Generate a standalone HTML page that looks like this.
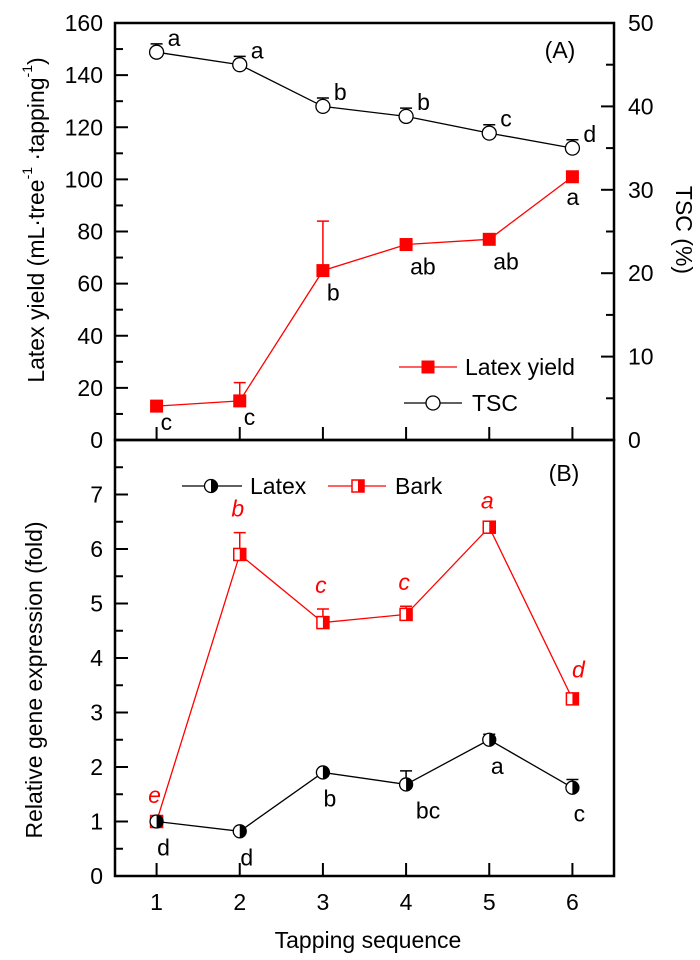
<!DOCTYPE html>
<html><head><meta charset="utf-8"><style>
html,body{margin:0;padding:0;background:#fff;}
svg{display:block;font-family:"Liberation Sans",Arial,sans-serif;}
</style></head><body>
<svg id="chart" width="700" height="960" viewBox="0 0 700 960" xmlns="http://www.w3.org/2000/svg"></svg>
<script>
const categories=[1,2,3,4,5,6];
const latexYield=[13,15,65,75,77,101];
const latexYieldErr=[1,7,19,1,1,2];
const latexYieldLetters=["c","c","b","ab","ab","a"];
const tsc=[46.5,45,40,38.8,36.8,35];
const tscErr=[1,1,1,1,1,1];
const tscLetters=["a","a","b","b","c","d"];
const bark=[1.0,5.9,4.65,4.8,6.4,3.25];
const barkErr=[0.05,0.4,0.25,0.15,0.05,0.1];
const barkLetters=["e","b","c","c","a","d"];
const latexExpr=[1.0,0.82,1.9,1.68,2.5,1.62];
const latexExprErr=[0.03,0.03,0.05,0.25,0.1,0.15];
const latexExprLetters=["d","d","b","bc","a","c"];
const yLeftTicksA=[0,20,40,60,80,100,120,140,160];
const yRightTicksA=[0,10,20,30,40,50];
const yTicksB=[0,1,2,3,4,5,6,7];

const svg=document.getElementById('chart');
const NS='http://www.w3.org/2000/svg';
function mk(tag,attrs,parent){const e=document.createElementNS(NS,tag);for(const k in attrs)e.setAttribute(k,attrs[k]);(parent||svg).appendChild(e);return e;}
function txt(s,x,y,opts,parent){const e=mk('text',Object.assign({x:x,y:y,'font-size':23,fill:'#000','dominant-baseline':'central'},opts||{}),parent);e.textContent=s;return e;}

const L=115,R=614,TA=23,BA=440,TB=440,BB=876;
const xs=v=>L+(v-0.5)/6*(R-L);
const yA=v=>BA-v/160*(BA-TA);
const yA2=v=>BA-v/50*(BA-TA);
const yB=v=>BB-v/8*(BB-TB);

const fa=mk('rect',{x:L,y:TA,width:R-L,height:BA-TA,fill:'none',stroke:'#000','stroke-width':2.5});

const fb=mk('rect',{x:L,y:TB,width:R-L,height:BB-TB,fill:'none',stroke:'#000','stroke-width':2.5});


const tg=mk('g',{stroke:'#000','stroke-width':2});

yLeftTicksA.forEach((v,i)=>{mk('line',{x1:L,x2:L+13,y1:yA(v),y2:yA(v)},tg);if(i<yLeftTicksA.length-1){const m=yA(v+10);mk('line',{x1:L,x2:L+8,y1:m,y2:m},tg);}
 const t=txt(String(v),L-12,yA(v),{'text-anchor':'end'});});
yRightTicksA.forEach((v,i)=>{mk('line',{x1:R,x2:R-13,y1:yA2(v),y2:yA2(v)},tg);if(i<yRightTicksA.length-1){const m=yA2(v+5);mk('line',{x1:R,x2:R-8,y1:m,y2:m},tg);}
 const t=txt(String(v),R+14,yA2(v),{'text-anchor':'start'});});
yTicksB.forEach(v=>{mk('line',{x1:L,x2:L+13,y1:yB(v),y2:yB(v)},tg);const m=yB(v+0.5);mk('line',{x1:L,x2:L+8,y1:m,y2:m},tg);
 const t=txt(String(v),L-12,yB(v),{'text-anchor':'end'});});
categories.forEach(c=>{mk('line',{x1:xs(c),x2:xs(c),y1:BA,y2:BA-13},tg);mk('line',{x1:xs(c),x2:xs(c),y1:BB,y2:BB-13},tg);
 const t=txt(String(c),xs(c),902,{'text-anchor':'middle'});});

let t;
t=txt('',0,0,{'text-anchor':'middle',transform:'translate(36,220) rotate(-90)'});

['Latex yield (mL·tree','-1',' ·tapping','-1',')'].forEach((s,i)=>{const sp=document.createElementNS(NS,'tspan');if(i%2===1){sp.setAttribute('font-size','14');sp.setAttribute('dy','-9');}else if(i>0){sp.setAttribute('dy','9');}sp.textContent=s;t.appendChild(sp);});
t=txt('TSC (%)',0,0,{'text-anchor':'middle',transform:'translate(684,230) rotate(90)'});

t=txt('Relative gene expression (fold)',0,0,{'text-anchor':'middle',transform:'translate(34,680) rotate(-90)'});

t=txt('Tapping sequence',368,940,{'text-anchor':'middle'});

t=txt('(A)',560,50,{'text-anchor':'middle'});
t=txt('(B)',564,473,{'text-anchor':'middle'});

function series(vals,errs,yf,color,name){
 const g=mk('g',{});
 const pts=vals.map((v,i)=>xs(categories[i])+','+yf(v)).join(' ');
 mk('polyline',{points:pts,fill:'none',stroke:color,'stroke-width':1.3},g);
 vals.forEach((v,i)=>{const x=xs(categories[i]),y0=yf(v),y1=yf(v+errs[i]);
  const e=mk('path',{d:`M${x},${y0}V${y1}M${x-6},${y1}H${x+6}`,stroke:color,'stroke-width':1.5,fill:'none'},g);
  });
 return g;}
function sqFull(g,x,y){const m=mk('rect',{x:x-6,y:y-6,width:12,height:12,fill:'#f00',stroke:'#f00'},g);}
function circ(g,x,y){const m=mk('circle',{cx:x,cy:y,r:7,fill:'#fff',stroke:'#000','stroke-width':1.3},g);}
function halfCirc(g,x,y){const gg=mk('g',{},g);
 mk('circle',{cx:x,cy:y,r:6.5,fill:'#fff',stroke:'#000','stroke-width':1.3},gg);mk('path',{d:`M${x},${y-6.5}A6.5,6.5 0 0 1 ${x},${y+6.5}Z`,fill:'#000'},gg);}
function halfSq(g,x,y){const gg=mk('g',{},g);
 mk('rect',{x:x-6,y:y-6,width:12,height:12,fill:'#fff',stroke:'#f00','stroke-width':1.5},gg);mk('rect',{x:x,y:y-6,width:6,height:12,fill:'#f00'},gg);}

const gTsc=series(tsc,tscErr,yA2,'#000','tsc');tsc.forEach((v,i)=>circ(gTsc,xs(categories[i]),yA2(v)));
const gLy=series(latexYield,latexYieldErr,yA,'#f00','latex-yield');latexYield.forEach((v,i)=>sqFull(gLy,xs(categories[i]),yA(v)));
const gBk=series(bark,barkErr,yB,'#f00','bark');bark.forEach((v,i)=>halfSq(gBk,xs(categories[i]),yB(v)));
const gLe=series(latexExpr,latexExprErr,yB,'#000','latex-expr');latexExpr.forEach((v,i)=>halfCirc(gLe,xs(categories[i]),yB(v)));

tsc.forEach((v,i)=>{const l=txt(tscLetters[i],xs(categories[i])+11,yA2(v+tscErr[i])-6,{'text-anchor':'start'});});
latexYield.forEach((v,i)=>{const l=txt(latexYieldLetters[i],xs(categories[i])+(i==5?-6:4),yA(v)+(i==5?20:i<2?16:22),{'text-anchor':'start'});});
bark.forEach((v,i)=>{const l=txt(barkLetters[i],xs(categories[i])+(i==5?6:-2),yB(v+barkErr[i])-24,{'text-anchor':'middle',fill:'#f00','font-style':'italic'});});
latexExpr.forEach((v,i)=>{const l=txt(latexExprLetters[i],xs(categories[i])+(i==3?22:(i==4?8:7)),yB(v)+26,{'text-anchor':'middle'});});

const lga=mk('g',{});
mk('line',{x1:399,x2:457,y1:367,y2:367,stroke:'#f00','stroke-width':1.3},lga);sqFull(lga,428,367);
t=txt('Latex yield',465,367,{},lga);
mk('line',{x1:404,x2:462,y1:403,y2:403,stroke:'#000','stroke-width':1.3},lga);circ(lga,433,403);
t=txt('TSC',472,403,{},lga);
const lgb=mk('g',{});
mk('line',{x1:182,x2:242,y1:486,y2:486,stroke:'#000','stroke-width':1.3},lgb);halfCirc(lgb,211,486);
t=txt('Latex',250,486,{},lgb);
mk('line',{x1:328,x2:386,y1:486,y2:486,stroke:'#f00','stroke-width':1.3},lgb);halfSq(lgb,358,486);
t=txt('Bark',395,486,{},lgb);
</script>
</body></html>
